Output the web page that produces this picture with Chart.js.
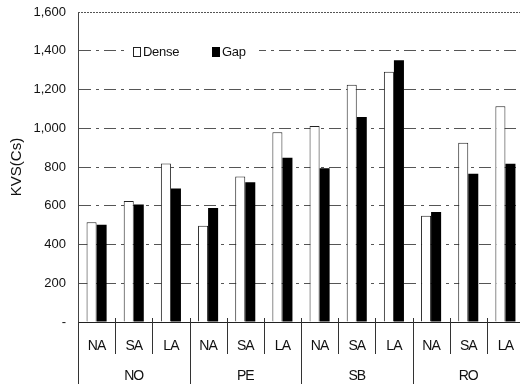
<!DOCTYPE html>
<html>
<head>
<meta charset="utf-8">
<script src="https://cdn.jsdelivr.net/npm/chart.js@4/dist/chart.umd.min.js"></script>
<style>
  html, body { margin: 0; padding: 0; background: #fff; overflow: hidden; }
  canvas { display: block; }
</style>
</head>
<body>
<canvas id="kvs" width="524" height="384"></canvas>
<script>
// Sub-categories (per site), site groups and the two measured series
const subLabels = ['NA', 'SA', 'LA', 'NA', 'SA', 'LA', 'NA', 'SA', 'LA', 'NA', 'SA', 'LA'];
const groupLabels = ['NO', 'PE', 'SB', 'RO'];
const groupSize = 3;
const denseValues = [515, 625, 818, 497, 751, 980, 1011, 1225, 1291, 549, 925, 1113];
const gapValues = [502, 606, 689, 589, 721, 848, 794, 1058, 1351, 568, 765, 817];
const yTicks = [0, 200, 400, 600, 800, 1000, 1200, 1400, 1600];

const narrow = '"Liberation Sans Narrow", "Arial Narrow", "Liberation Sans", Arial, sans-serif';
const ink = '#111';

// Two-level category axis, top border and in-plot legend
const decorations = {
  id: 'decorations',
  afterDraw(chart) {
    const { ctx, chartArea: a, scales: { x } } = chart;
    const n = subLabels.length;
    const half = (x.getPixelForValue(1) - x.getPixelForValue(0)) / 2;
    ctx.save();

    // dotted top border
    ctx.strokeStyle = '#555';
    ctx.lineWidth = 1;
    ctx.setLineDash([2, 1]);
    ctx.beginPath();
    ctx.moveTo(a.left, a.top + 0.5);
    ctx.lineTo(a.right, a.top + 0.5);
    ctx.stroke();
    ctx.setLineDash([]);

    // separators below the axis
    ctx.strokeStyle = '#333';
    for (let i = 0; i <= n; i++) {
      const bx = Math.round(x.getPixelForValue(i) - half) + 0.5;
      const isGroup = i % groupSize === 0;
      ctx.beginPath();
      ctx.moveTo(bx, a.bottom - (i > 0 && i < n ? 4 : 0));
      ctx.lineTo(bx, isGroup ? chart.height : a.bottom + 32);
      ctx.stroke();
    }

    // labels
    ctx.fillStyle = ink;
    ctx.font = '14px ' + narrow;
    ctx.letterSpacing = '-1px';
    ctx.textAlign = 'center';
    ctx.textBaseline = 'middle';
    subLabels.forEach((s, i) => ctx.fillText(s, x.getPixelForValue(i), a.bottom + 24));
    groupLabels.forEach((g, k) => {
      const c = (x.getPixelForValue(k * groupSize) + x.getPixelForValue(k * groupSize + groupSize - 1)) / 2;
      ctx.fillText(g, c, a.bottom + 54);
    });

    // legend
    const ly = a.top + 40;
    let lx = a.left + 55;
    ctx.fillStyle = '#fff';
    ctx.fillRect(lx - 4, ly - 8, 130, 16);
    ctx.textAlign = 'left';
    ctx.font = '13px ' + narrow;
    ctx.letterSpacing = '-0.3px';
    chart.data.datasets.forEach((ds) => {
      ctx.fillStyle = ds.backgroundColor;
      ctx.fillRect(lx, ly - 5, 8, 10);
      ctx.strokeStyle = ds.borderColor;
      ctx.lineWidth = 1;
      ctx.strokeRect(lx + 0.5, ly - 4.5, 7, 9);
      ctx.fillStyle = ink;
      ctx.fillText(ds.label, lx + 10, ly);
      lx += 79;
    });
    ctx.restore();
  }
};

new Chart(document.getElementById('kvs'), {
  type: 'bar',
  data: {
    labels: subLabels,
    datasets: [
      { label: 'Dense', data: denseValues, backgroundColor: '#fff', borderColor: '#222', borderWidth: 1 },
      { label: 'Gap', data: gapValues, backgroundColor: '#000', borderColor: '#000', borderWidth: 0 }
    ]
  },
  options: {
    responsive: false,
    animation: false,
    devicePixelRatio: 1,
    layout: { padding: { top: 12, right: 0, bottom: 54, left: 0 } },
    datasets: { bar: { categoryPercentage: 0.54, barPercentage: 1.0 } },
    plugins: { legend: { display: false }, tooltip: { enabled: false } },
    scales: {
      x: {
        ticks: { display: false },
        grid: { display: false },
        border: { display: true, color: '#222', width: 1 }
      },
      y: {
        min: 0,
        max: 1600,
        afterBuildTicks(scale) { scale.ticks = yTicks.map(v => ({ value: v })); },
        afterFit(scale) {
          scale.width = 78;
          scale.paddingTop = 0;
          scale.paddingBottom = 0;
        },
        ticks: {
          color: ink,
          font: { size: 13, family: narrow },
          padding: 12,
          callback: v => v === 0 ? '-' : v.toLocaleString('en-US')
        },
        title: {
          display: true,
          text: 'KVS(Cs)',
          color: ink,
          font: { size: 15, family: '"Liberation Sans", Arial, sans-serif' },
          padding: { top: 8, bottom: 6 }
        },
        grid: {
          color: ctx => ctx.tick && (ctx.tick.value === 0 || ctx.tick.value === 1600) ? 'rgba(0,0,0,0)' : '#555',
          drawTicks: false
        },
        border: { display: true, color: '#444', width: 1, dash: [12, 5, 3, 5] }
      }
    }
  },
  plugins: [decorations]
});
</script>
</body>
</html>
